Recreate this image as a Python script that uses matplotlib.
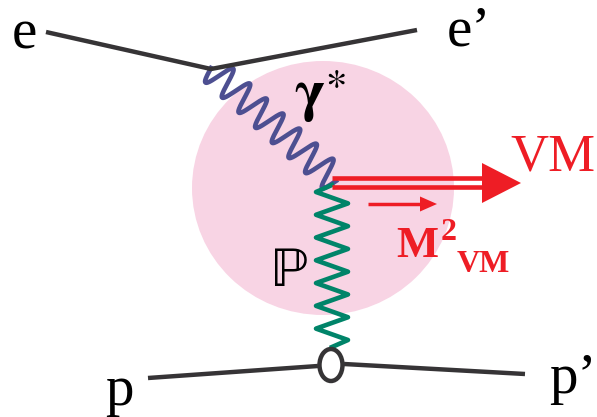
import numpy as np
import matplotlib
matplotlib.use("Agg")
import matplotlib.pyplot as plt
from matplotlib.patches import Ellipse, Polygon

plt.rcParams["mathtext.fontset"] = "stix"

# diagram geometry (pixel coordinates, y downwards)
electron_x = [46, 211, 417]
electron_y = [32, 69, 30]
proton_left_x = [148, 318]
proton_left_y = [378, 366]
proton_right_x = [344, 525]
proton_right_y = [364, 374]
photon_start = (211, 68)
photon_end = (336, 181)
pomeron_start = (332, 185)
pomeron_end = (332, 347)
blob_center = (323, 188)
blob_size = (262, 254)
vertex_center = (331, 365)
vm_line_y = [178, 187]
vm_line_x = [332, 485]
vm_head_x = [482, 521]
mass_arrow_x = [368, 437]
mass_arrow_y = 204

labels = ["e", "e\u2019", "p", "p\u2019"]
label_x = [12, 447, 105, 549]
label_y = [48, 45, 405, 393]

BLACK = "#363436"
BLUE = "#4d4f91"
GREEN = "#008469"
PINK = "#f8d4e4"
RED = "#ee1d25"

fig = plt.figure(figsize=(5.97, 4.17), dpi=100)
ax = fig.add_axes([0, 0, 1, 1])
ax.set_xlim(0, 597)
ax.set_ylim(417, 0)
ax.axis("off")

ax.add_patch(Ellipse(blob_center, blob_size[0], blob_size[1], color=PINK, lw=0, zorder=0))

# electron and proton lines
ax.plot(electron_x, electron_y, color=BLACK, lw=3.2, solid_capstyle="butt", zorder=3)
ax.plot(proton_left_x, proton_left_y, color=BLACK, lw=3.2, solid_capstyle="butt", zorder=3)
ax.plot(proton_right_x, proton_right_y, color=BLACK, lw=3.2, solid_capstyle="butt", zorder=3)

# photon wave
p0 = np.array(photon_start, float)
p1 = np.array(photon_end, float)
d = p1 - p0
length = np.hypot(*d)
u = d / length
n = np.array([-u[1], u[0]])
t = np.linspace(0, 1, 600)
wave = 14.5 * np.sin(2 * np.pi * 7.5 * t)
pts = p0[None, :] + t[:, None] * d[None, :] + wave[:, None] * n[None, :]
ax.plot(pts[:, 0], pts[:, 1], color=BLUE, lw=3.3, zorder=2)

# pomeron zigzag
nz = 14
zy = np.linspace(pomeron_start[1] + 7, pomeron_end[1] - 7, nz)
zx = [pomeron_start[0] - 16 if k % 2 == 0 else pomeron_start[0] + 16 for k in range(nz)]
zx = [pomeron_start[0]] + zx + [pomeron_end[0]]
zy = [pomeron_start[1]] + list(zy) + [pomeron_end[1]]
ax.plot(zx, zy, color=GREEN, lw=3.3, solid_joinstyle="round", zorder=2)

# proton vertex
ax.add_patch(Ellipse(vertex_center, 23, 32, facecolor="white", edgecolor=BLACK, lw=3.2, zorder=4))

# vector meson double arrow
for yy in vm_line_y:
    ax.plot(vm_line_x, [yy, yy], color=RED, lw=3.3, solid_capstyle="butt", zorder=3)
ymid = np.mean(vm_line_y) + 0.5
ax.add_patch(Polygon([(vm_head_x[0], ymid - 20), (vm_head_x[1], ymid), (vm_head_x[0], ymid + 20)],
                     closed=True, color=RED, lw=0, zorder=3))

# small mass arrow
ax.plot([mass_arrow_x[0], mass_arrow_x[1] - 12], [mass_arrow_y, mass_arrow_y], color=RED, lw=2.5,
        solid_capstyle="butt", zorder=3)
ax.add_patch(Polygon([(mass_arrow_x[1] - 17, mass_arrow_y - 7.5), (mass_arrow_x[1], mass_arrow_y),
                      (mass_arrow_x[1] - 17, mass_arrow_y + 7.5)], closed=True, color=RED, lw=0, zorder=3))

serif = "Liberation Serif"
for s, x, y in zip(labels, label_x, label_y):
    ax.text(x, y, s, fontsize=41, family=serif, ha="left", va="baseline", color="black")

ax.text(510, 170, "VM", fontsize=38, family=serif, color=RED, ha="left", va="baseline")
ax.text(396, 257, "M", fontsize=32, family=serif, weight="bold", color=RED, ha="left", va="baseline")
ax.text(441, 240, "2", fontsize=23, family=serif, weight="bold", color=RED, ha="left", va="baseline")
ax.text(457, 272, "VM", fontsize=23, family=serif, weight="bold", color=RED, ha="left", va="baseline")

ax.text(294, 111, "\u03b3$^{\\ast}$", fontsize=42, family="STIXGeneral", weight="bold", color="black",
        ha="left", va="baseline")
ax.text(271, 286, "\u2119", fontsize=41, family=["STIXGeneral", "DejaVu Serif"], color="black",
        ha="left", va="baseline")

fig.savefig("out.png", dpi=100)
